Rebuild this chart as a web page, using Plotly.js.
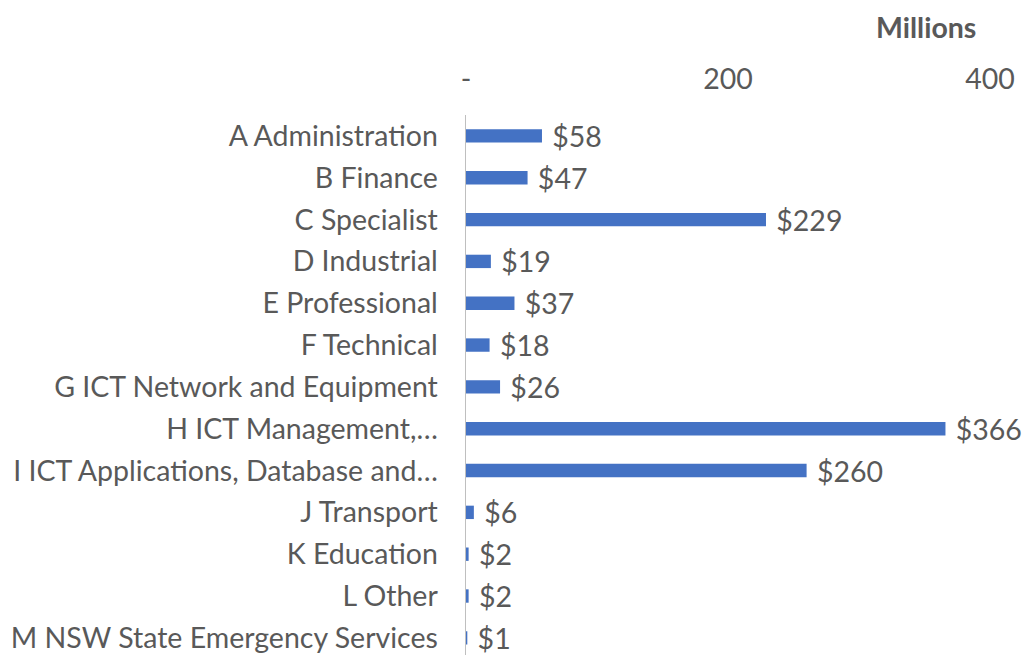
<!DOCTYPE html>
<html><head><meta charset="utf-8">
<script src="https://cdn.plot.ly/plotly-3.0.1.min.js"></script>
<style>html,body{margin:0;padding:0;background:#fff}#chart{width:1035px;height:655px}</style>
</head><body><div id="chart"></div>
<script>
const categories = ["A Administration","B Finance","C Specialist","D Industrial","E Professional","F Technical","G ICT Network and Equipment","H ICT Management,…","I ICT Applications, Database and…","J Transport","K Education","L Other","M NSW State Emergency Services"];
const values = [58,47,229,19,37,18,26,366,260,6,2,2,1];
const tickVals = [0,200,400];
const tickLabels = ["-","200","400"];

const FONT = "Lato, 'Open Sans', sans-serif";
const GREY = "#595959";
const FS = 28.5;

const trace = {
  type: "bar", orientation: "h",
  x: values, y: categories,
  width: 0.32,
  marker: {color: "#4472C4"},
  text: values.map(v => "\u00a0$" + v),
  textposition: "outside",
  constraintext: "none",
  cliponaxis: false,
  textfont: {family: FONT, size: FS, color: GREY},
  hoverinfo: "skip"
};

const layout = {
  width: 1035, height: 655,
  margin: {l: 466, r: 45, t: 115, b: 0, pad: 0},
  paper_bgcolor: "#fff", plot_bgcolor: "#fff",
  showlegend: false,
  xaxis: {
    side: "top", range: [0, 400], tickvals: tickVals, ticktext: tickLabels,
    showgrid: false, zeroline: false, showline: false, ticks: "",
    ticklabelstandoff: 19,
    tickfont: {family: FONT, size: FS, color: GREY}, fixedrange: true
  },
  yaxis: {
    range: [12.41, -0.5], showgrid: false, zeroline: false,
    showline: true, linecolor: "#BFBFBF", linewidth: 1.5, ticks: "",
    ticklabelstandoff: 21,
    tickfont: {family: FONT, size: FS, color: GREY}, fixedrange: true
  },
  annotations: [{
    text: "<b>Millions</b>", xref: "paper", yref: "paper",
    x: 0.877, y: 1, yshift: 88, xanchor: "center", yanchor: "middle",
    showarrow: false, font: {family: FONT, size: FS, color: GREY}
  }]
};

Plotly.newPlot("chart", [trace], layout, {displayModeBar: false, staticPlot: true});
</script></body></html>
